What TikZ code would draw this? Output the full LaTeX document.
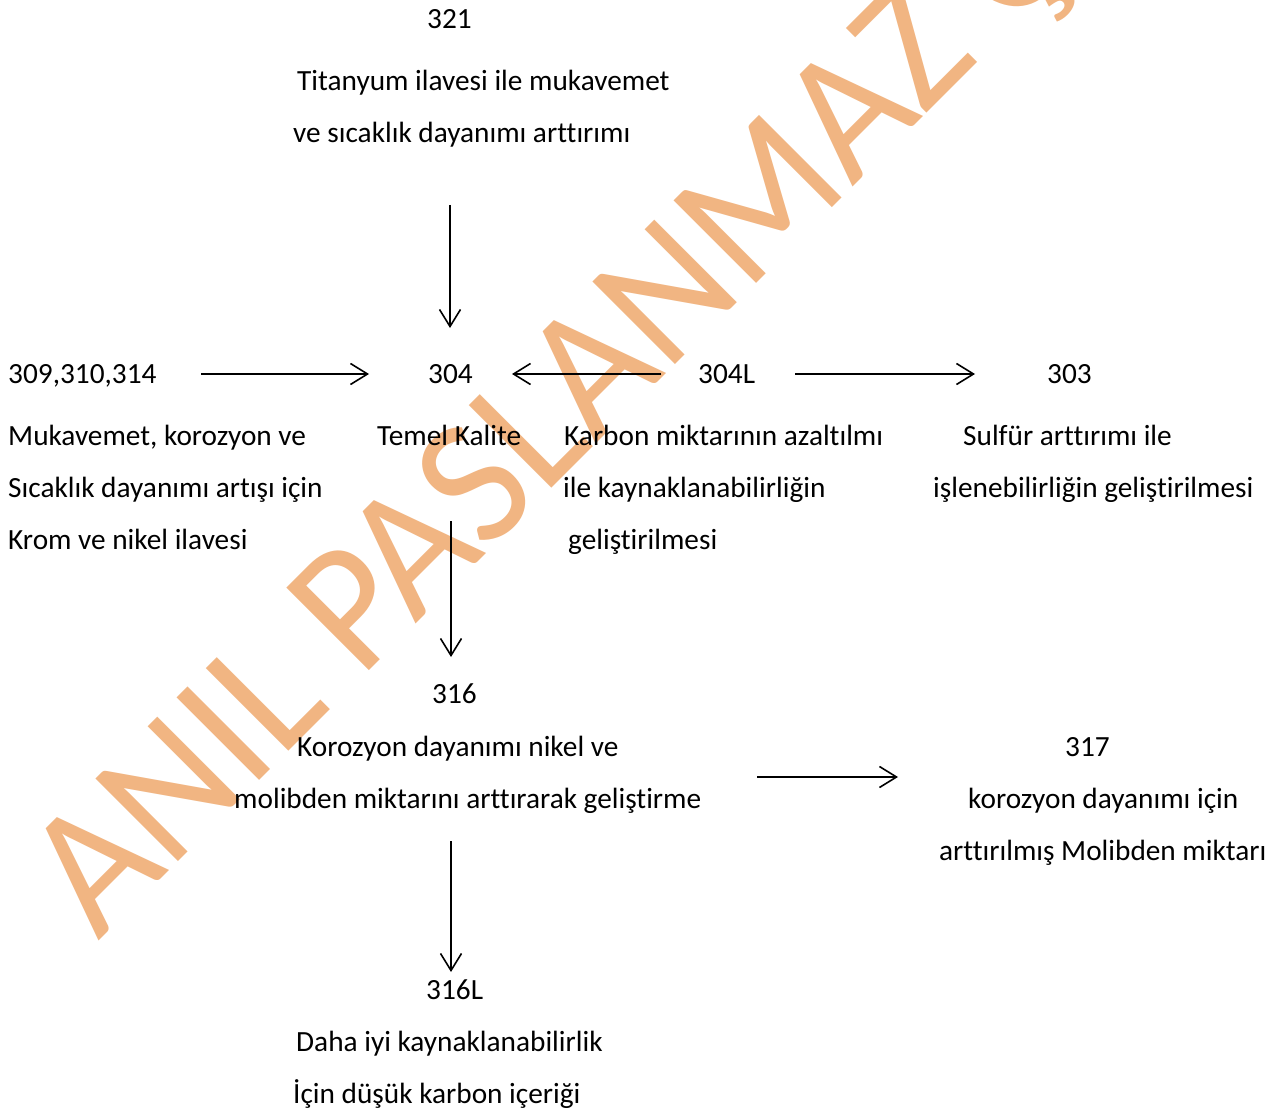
\documentclass[tikz,border=0pt]{standalone}
\usepackage{fontspec}
\setmainfont{Carlito}[Ligatures={NoCommon}]
\usetikzlibrary{arrows.meta}
\definecolor{wm}{RGB}{241,181,130}
\tikzset{
  txt/.style={anchor=base west, inner sep=0pt, font=\fontsize{29.3}{35}\selectfont},
  arr/.style={line width=1.6pt, -{Straight Barb[length=17pt,width=21pt,line width=1.6pt]}},
  wmark/.style={anchor=base west, inner sep=0pt, text=wm, rotate=45, font=\fontsize{182}{200}\selectfont}
}
\begin{document}
\begin{tikzpicture}[x=1pt,y=-1pt]
\useasboundingbox (0,0) rectangle (1278,1110);
\fill[white] (0,0) rectangle (1278,1110);
\begin{scope}
\clip (0,0) rectangle (1278,1110);
\node[wmark] (wm) at (98,942) {\scalebox{0.96}[1]{ANIL PASLANMAZ Ç}};
\end{scope}
% top
\node[txt] (n321) at (427,29) {321};
\node[txt] (n321a) at (297,91) {Titanyum ilavesi ile mukavemet};
\node[txt] (n321b) at (293,143) {ve sıcaklık dayanımı arttırımı};
% row
\node[txt] (n309) at (8,383) {309,310,314};
\node[txt] (n304) at (428,383) {304};
\node[txt] (n304L) at (698,383) {304L};
\node[txt] (n303) at (1047,383) {303};
\node[txt] (n309a) at (8,445) {Mukavemet, korozyon ve};
\node[txt] (n309b) at (8,497) {Sıcaklık dayanımı artışı için};
\node[txt] (n309c) at (8,549) {Krom ve nikel ilavesi};
\node[txt] (n304a) at (377,445) {Temel Kalite};
\node[txt] (n304La) at (564,445) {Karbon miktarının azaltılmı};
\node[txt] (n304Lb) at (563,497) {ile kaynaklanabilirliğin};
\node[txt] (n304Lc) at (568,549) {geliştirilmesi};
\node[txt] (n303a) at (963,445) {Sulfür arttırımı ile};
\node[txt] (n303b) at (933,497) {işlenebilirliğin geliştirilmesi};
% 316
\node[txt] (n316) at (432,703) {316};
\node[txt] (n316a) at (297,756) {Korozyon dayanımı nikel ve};
\node[txt] (n316b) at (234,808) {molibden miktarını arttırarak geliştirme};
\node[txt] (n317) at (1065,756) {317};
\node[txt] (n317a) at (968,808) {korozyon dayanımı için};
\node[txt] (n317b) at (939,860) {arttırılmış Molibden miktarı};
% 316L
\node[txt] (n316L) at (426,999) {316L};
\node[txt] (n316La) at (296,1051) {Daha iyi kaynaklanabilirlik};
\node[txt] (n316Lb) at (293,1103) {İçin düşük karbon içeriği};
% arrow end points
\coordinate (a1s) at (450,205); \coordinate (a1e) at (450,328);
\coordinate (a2s) at (201,374); \coordinate (a2e) at (369,374);
\coordinate (a3s) at (661,374); \coordinate (a3e) at (512,374);
\coordinate (a4s) at (795,374); \coordinate (a4e) at (975,374);
\coordinate (a5s) at (451,521); \coordinate (a5e) at (451,657);
\coordinate (a6s) at (757,777); \coordinate (a6e) at (898,777);
\coordinate (a7s) at (451,841); \coordinate (a7e) at (451,972);
\draw[arr] (a1s) -- (a1e);
\draw[arr] (a2s) -- (a2e);
\draw[arr] (a3s) -- (a3e);
\draw[arr] (a4s) -- (a4e);
\draw[arr] (a5s) -- (a5e);
\draw[arr] (a6s) -- (a6e);
\draw[arr] (a7s) -- (a7e);
\end{tikzpicture}
\end{document}
